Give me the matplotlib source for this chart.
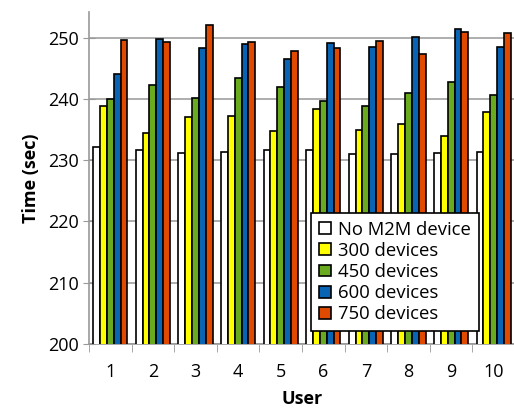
import matplotlib
matplotlib.use("Agg")
import matplotlib.pyplot as plt
import numpy as np

users = ["1", "2", "3", "4", "5", "6", "7", "8", "9", "10"]
series_names = ["No M2M device", "300 devices", "450 devices", "600 devices", "750 devices"]
no_m2m = [232.2, 231.7, 231.1, 231.3, 231.6, 231.6, 231.0, 231.0, 231.1, 231.3]
dev300 = [238.9, 234.4, 237.0, 237.2, 234.7, 238.3, 235.0, 235.9, 233.9, 237.8]
dev450 = [240.0, 242.3, 240.1, 243.5, 241.9, 239.6, 238.8, 241.0, 242.7, 240.6]
dev600 = [244.1, 249.8, 248.4, 248.9, 246.6, 249.2, 248.5, 250.2, 251.4, 248.5]
dev750 = [249.6, 249.3, 252.1, 249.3, 247.8, 248.4, 249.5, 247.3, 250.9, 250.8]
colors = ["#ffffff", "#ffff00", "#6aaa1e", "#0a64b4", "#e04a00"]
yticks = [200, 210, 220, 230, 240, 250]

plt.rcParams['font.family'] = ['Open Sans', 'DejaVu Sans']
fig = plt.figure(figsize=(5.14, 4.08), dpi=100)
ax = fig.add_axes([89/514, 64/408, 426/514, 332/408])

data = [no_m2m, dev300, dev450, dev600, dev750]
x = np.arange(len(users))
w = 0.16
for i, (vals, c, name) in enumerate(zip(data, colors, series_names)):
    ax.bar(x + (i - 2) * w, vals, w, color=c, edgecolor="black", linewidth=1.2,
           label=name, zorder=3)

ax.set_ylim(200, 254.2)
ax.set_xlim(-0.5, len(users) - 0.5)
ax.set_yticks(yticks)
ax.set_yticklabels([str(v) for v in yticks], fontsize=13)
ax.set_xticks(x)
ax.set_xticklabels(users, fontsize=13)
ax.tick_params(axis='x', length=0, pad=14)
ax.set_xticks(np.arange(len(users) + 1) - 0.5, minor=True)
ax.tick_params(axis='x', which='minor', length=6, color="#999999")
ax.tick_params(axis='y', length=8, direction='inout', color="#999999", pad=3)
ax.yaxis.grid(True, color="#a0a0a0", linewidth=1.2, zorder=0)
ax.set_axisbelow(True)
for s in ["top", "right"]:
    ax.spines[s].set_visible(False)
for s in ["left", "bottom"]:
    ax.spines[s].set_color("#999999")
    ax.spines[s].set_linewidth(1.2)

ax.set_ylabel("Time (sec)", fontsize=13, fontweight="bold", labelpad=6)
ax.set_xlabel("User", fontsize=13, fontweight="bold", labelpad=6)

leg = ax.legend(loc="lower left", bbox_to_anchor=(0.522, 0.039), fontsize=13.3,
                frameon=True, fancybox=False, edgecolor="black",
                handlelength=0.62, handleheight=0.62, handletextpad=0.4,
                labelspacing=0.17, borderpad=0.42, borderaxespad=0.0, framealpha=1)
leg.get_frame().set_linewidth(1.2)
leg.set_zorder(5)

fig.savefig("out.png", dpi=100)
